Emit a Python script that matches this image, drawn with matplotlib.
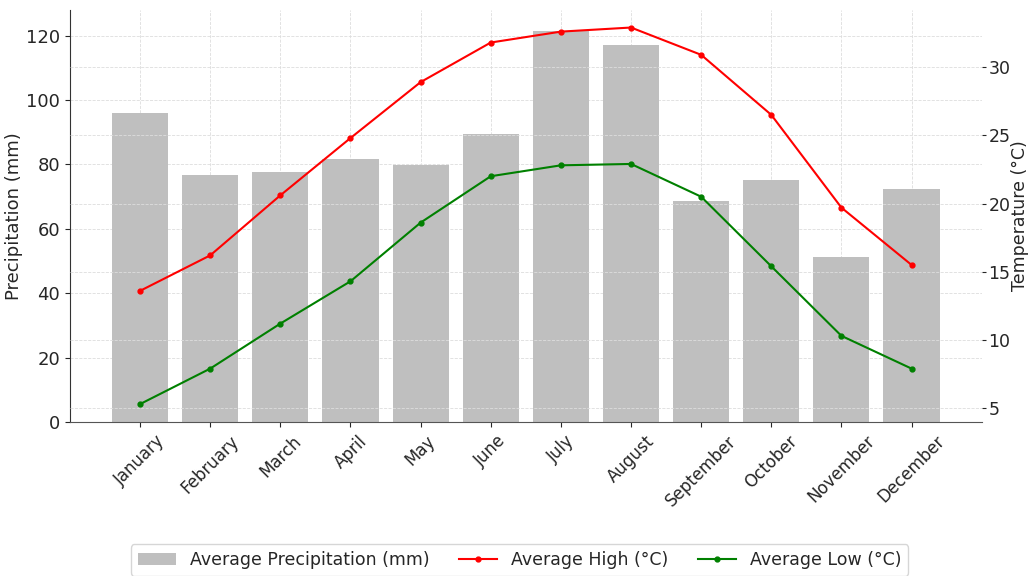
import matplotlib.pyplot as plt
import numpy as np

# dados
months = ["January", "February", "March", "April", "May", "June",
          "July", "August", "September", "October", "November", "December"]
precip = [96.1, 76.8, 77.7, 81.8, 79.9, 89.5, 121.5, 117.2, 68.7, 75.2, 51.3, 72.4]
high = [13.6, 16.2, 20.6, 24.8, 28.9, 31.8, 32.6, 32.9, 30.9, 26.5, 19.7, 15.5]
low = [5.3, 7.9, 11.2, 14.3, 18.6, 22.0, 22.8, 22.9, 20.5, 15.4, 10.3, 7.9]

plt.rcParams["font.family"] = "DejaVu Sans"
plt.rcParams["text.color"] = "#262626"
plt.rcParams["axes.labelcolor"] = "#262626"
plt.rcParams["xtick.color"] = "#262626"
plt.rcParams["ytick.color"] = "#262626"

fig, ax1 = plt.subplots(figsize=(10.29, 5.76), dpi=100)
fig.subplots_adjust(left=0.068, right=0.954, top=0.983, bottom=0.267)

x = np.arange(len(months))
b = ax1.bar(x, precip, width=0.8, color="#bfbfbf", label="Average Precipitation (mm)", zorder=2)
ax1.set_ylabel("Precipitation (mm)", fontsize=13, labelpad=2)
ax1.set_ylim(0, 128)
ax1.set_xlim(-1, 12)
ax1.set_xticks(x)
ax1.set_xticklabels(months, rotation=45, fontsize=12)
ax1.tick_params(axis="y", labelsize=13)
ax1.grid(True, linestyle="--", linewidth=0.6, color="#dddddd", zorder=0)
ax1.set_axisbelow(True)
for s in ["top", "right"]:
    ax1.spines[s].set_visible(False)
ax1.spines["left"].set_color("#333333")
ax1.spines["bottom"].set_color("#555555")

ax2 = ax1.twinx()
l1, = ax2.plot(x, high, color="red", marker="o", markersize=3.5, linewidth=1.5, label="Average High (°C)")
l2, = ax2.plot(x, low, color="green", marker="o", markersize=3.5, linewidth=1.5, label="Average Low (°C)")
ax2.set_ylabel("Temperature (°C)", fontsize=12.5, labelpad=0)
ax2.set_ylim(3.97, 34.2)
ax2.set_yticks([5, 10, 15, 20, 25, 30])
ax2.tick_params(axis="y", labelsize=12.5, length=3, pad=2)
ax2.grid(True, linestyle="--", linewidth=0.6, color="#dddddd")
for s in ["top", "right", "left", "bottom"]:
    ax2.spines[s].set_visible(False)

fig.legend([b, l1, l2], [b.get_label(), l1.get_label(), l2.get_label()],
           loc="lower center", ncol=3, bbox_to_anchor=(0.505, -0.015), fontsize=12.5,
           frameon=True, columnspacing=1.7, handlelength=2.2)

plt.savefig("out.png", dpi=100)
